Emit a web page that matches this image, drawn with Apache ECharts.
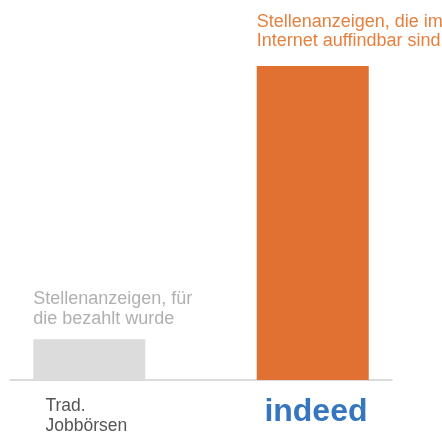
<!DOCTYPE html>
<html>
<head>
<meta charset="utf-8">
<script src="https://cdn.jsdelivr.net/npm/echarts@6/dist/echarts.min.js"></script>
<style>
  html, body { margin: 0; padding: 0; background: #fff; }
  #chart { width: 442px; height: 436px; }
</style>
</head>
<body>
<div id="chart"></div>
<script>
var categories = ['Trad. Jobbörsen', 'indeed'];
var paidValues = [13, '-'];
var onlineValues = ['-', 100];
var paidLabel = 'Stellenanzeigen, für\ndie bezahlt wurde';
var onlineLabel = 'Stellenanzeigen, die im\nInternet auffindbar sind';

var chart = echarts.init(document.getElementById('chart'));

var font = '"Liberation Sans", Arial, sans-serif';

var option = {
    animation: false,
    grid: { left: 10, right: 50, top: 66, bottom: 56 },
    xAxis: {
        type: 'category',
        data: categories,
        axisLine: { lineStyle: { color: '#cfcfcf', width: 1.5 } },
        axisTick: { show: false },
        axisLabel: {
            margin: 16,
            align: 'center',
            verticalAlign: 'top',
            formatter: function (v) {
                if (v === 'indeed') {
                    return '{logo|indeed}';
                }
                return '{trad|Trad.}\n{trad|Jobbörsen}';
            },
            rich: {
                trad: {
                    width: 120, align: 'left', fontSize: 17.5, lineHeight: 20,
                    color: '#555555', fontFamily: font
                },
                logo: {
                    width: 142, align: 'right', fontSize: 32, lineHeight: 32,
                    fontWeight: 'bold', color: '#3576bf', fontFamily: font
                }
            }
        }
    },
    yAxis: {
        type: 'value',
        min: 0,
        max: 100,
        show: false,
        splitLine: { show: false }
    },
    series: [
        {
            type: 'bar',
            data: paidValues,
            barWidth: 112,
            itemStyle: { color: '#dcdcdc' },
            label: {
                show: true,
                position: 'top',
                distance: 10,
                align: 'left',
                offset: [-56, 0],
                formatter: paidLabel,
                fontSize: 18,
                lineHeight: 20,
                color: '#b0b0b0',
                fontFamily: font
            }
        },
        {
            type: 'bar',
            data: onlineValues,
            barWidth: 112,
            barGap: '-71%',
            itemStyle: { color: '#e07132' },
            label: {
                show: true,
                position: 'top',
                distance: 15,
                align: 'left',
                offset: [-56, 0],
                formatter: onlineLabel,
                fontSize: 18,
                lineHeight: 19,
                color: '#e5803f',
                fontFamily: font
            }
        }
    ]
};

chart.setOption(option);
window.onresize = chart.resize;
</script>
</body>
</html>
